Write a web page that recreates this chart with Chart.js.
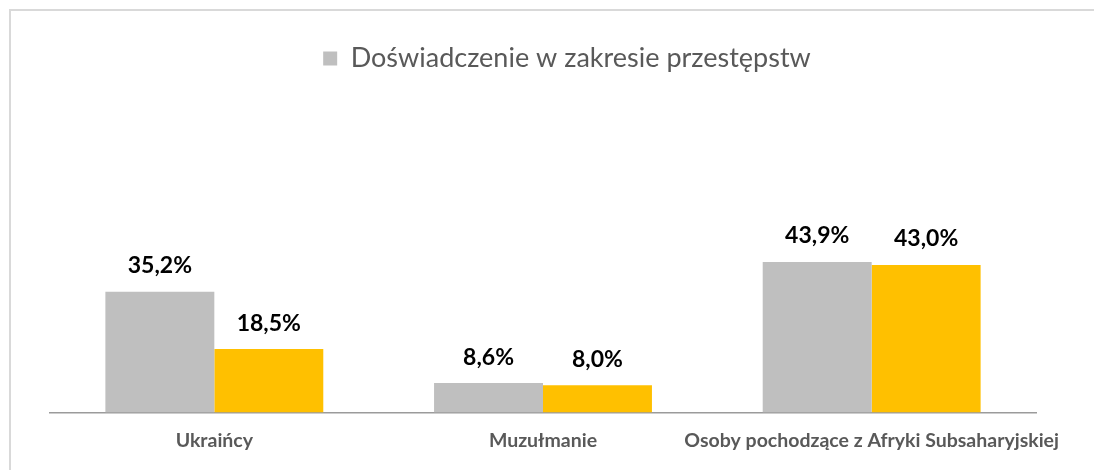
<!DOCTYPE html>
<html>
<head>
<meta charset="utf-8">
<script src="https://cdn.jsdelivr.net/npm/chart.js@4"></script>
<style>
  html, body { margin: 0; padding: 0; background: #fff; }
  #frame {
    position: absolute; left: 9px; top: 9px;
    width: 1083px; height: 459px;
    border-top: 2px solid #d9d9d9;
    border-left: 2px solid #d9d9d9;
  }
  #chart { display: block; }
</style>
</head>
<body>
<div id="frame"><canvas id="chart" width="1083" height="459"></canvas></div>
<script>
// dane z wykresu
const categories = ["Ukraińcy", "Muzułmanie", "Osoby pochodzące z Afryki Subsaharyjskiej"];
const crimeValues = [35.2, 8.6, 43.9];
const secondValues = [18.5, 8.0, 43.0];
const seriesLabels = ["Doświadczenie w zakresie przestępstw", "Doświadczenie w zakresie dyskryminacji"];

const GRAY = "#bfbfbf";
const YELLOW = "#ffc000";

// etykiety wartości nad słupkami
const valueLabels = {
    id: "valueLabels",
    afterDatasetsDraw(chart) {
        const ctx = chart.ctx;
        ctx.save();
        ctx.font = "bold 23px Lato";
        ctx.fillStyle = "#000";
        ctx.textAlign = "center";
        ctx.textBaseline = "middle";
        chart.data.datasets.forEach((ds, i) => {
            chart.getDatasetMeta(i).data.forEach((bar, j) => {
                const txt = ds.data[j].toFixed(1).replace(".", ",") + "%";
                ctx.fillText(txt, bar.x, bar.y - 26);
            });
        });
        ctx.restore();
    }
};

// legenda: stała wysokość i przesunięcie w prawo
const legendTweak = {
    id: "legendTweak",
    beforeInit(chart) {
        const fit = chart.legend.fit;
        chart.legend.fit = function () {
            fit.bind(chart.legend)();
            this.height = 230;
        };
    },
    afterLayout(chart) {
        chart.legend.left += 24;
        chart.legend.right += 24;
    }
};

new Chart(document.getElementById("chart"), {
    type: "bar",
    data: {
        labels: categories,
        datasets: [
            { label: seriesLabels[0], data: crimeValues, backgroundColor: GRAY },
            { label: seriesLabels[1], data: secondValues, backgroundColor: YELLOW }
        ]
    },
    options: {
        responsive: false,
        animation: false,
        datasets: { bar: { categoryPercentage: 0.663, barPercentage: 1.0 } },
        layout: { padding: { left: 39, right: 58, top: 0, bottom: 2 } },
        plugins: {
            legend: {
                position: "top",
                labels: {
                    filter: item => item.datasetIndex === 0,
                    boxWidth: 14,
                    boxHeight: 14,
                    padding: 34,
                    color: "#595959",
                    font: { family: "Lato", size: 27 }
                }
            },
            tooltip: { enabled: false }
        },
        scales: {
            x: {
                grid: { display: false, drawTicks: false },
                border: { display: true, color: "#9b9b9b", width: 1.5 },
                ticks: {
                    padding: 16,
                    color: "#595959",
                    font: { family: "Lato", size: 19.5, weight: "bold" },
                    autoSkip: false,
                    maxRotation: 0
                }
            },
            y: {
                display: false,
                min: 0,
                max: 50
            }
        }
    },
    plugins: [valueLabels, legendTweak]
});
</script>
</body>
</html>
